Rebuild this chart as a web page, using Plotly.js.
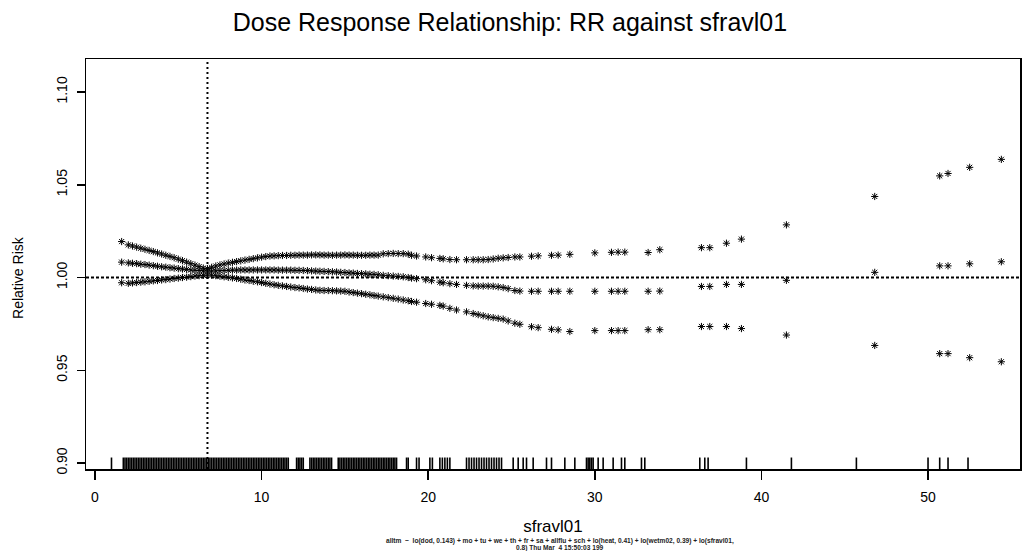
<!DOCTYPE html>
<html><head><meta charset="utf-8">
<script src="https://cdn.plot.ly/plotly-3.0.1.min.js"></script>
<style>html,body{margin:0;padding:0;background:#fff}#chart{width:1024px;height:551px}</style>
</head><body><div id="chart"></div>
<script>
// x values (sfravl01) at which the relative risk curves are plotted
const pointX = [1.6,
 2.0,2.25,2.5,2.75,3.0,3.25,3.5,3.75,4.0,4.25,4.5,4.75,5.0,5.25,5.5,5.75,6.0,6.25,6.5,6.75,
 7.0,7.25,7.5,7.75,8.0,8.25,8.5,8.75,9.0,9.25,9.5,9.75,10.0,10.25,10.5,10.75,11.0,11.25,11.5,11.75,
 12.0,12.25,12.5,12.75,13.0,13.25,13.5,13.75,14.0,14.25,14.5,14.75,15.0,15.25,15.5,15.75,16.0,16.25,16.5,16.75,17.0,
 17.3,17.6,17.9,18.2,18.5,18.8,19.0,19.3,19.85,20.2,20.7,20.9,21.3,21.7,22.3,22.7,23.0,23.3,23.6,23.9,24.2,24.5,24.8,
 25.2,25.5,26.2,26.6,27.4,27.8,28.5,30.0,31.0,31.4,31.8,33.2,33.9,36.4,36.9,37.9,38.8,41.5,46.8,50.7,51.2,52.5,54.4];

// upper confidence bound
const upperRR = [1.0194,
 1.0176,1.0170,1.0164,1.0158,1.0152,1.0146,1.0140,1.0133,1.0127,1.0120,1.0114,1.0107,1.0099,1.0091,1.0083,1.0075,1.0067,1.0059,1.0051,1.0048,
 1.0055,1.0062,1.0068,1.0073,1.0078,1.0082,1.0086,1.0090,1.0094,1.0098,1.0102,1.0106,1.0110,1.0113,1.0116,1.0117,1.0118,1.0119,1.0119,1.0120,
 1.0120,1.0121,1.0121,1.0121,1.0122,1.0122,1.0122,1.0121,1.0121,1.0120,1.0121,1.0121,1.0122,1.0121,1.0121,1.0120,1.0120,1.0120,1.0121,1.0121,1.0121,
 1.0128,1.0129,1.0130,1.0129,1.0129,1.0126,1.0120,1.0116,1.0111,1.0107,1.0103,1.0101,1.0097,1.0096,1.0096,1.0096,1.0096,1.0096,1.0097,1.0100,1.0104,1.0106,1.0108,
 1.0111,1.0111,1.0115,1.0117,1.0120,1.0121,1.0125,1.0133,1.0136,1.0137,1.0137,1.0135,1.0150,1.0161,1.0161,1.0185,1.0207,1.0284,1.0437,1.0548,1.0561,1.0594,1.0637];

// fitted relative risk
const estimateRR = [1.0083,
 1.0079,1.0077,1.0075,1.0072,1.0070,1.0067,1.0064,1.0061,1.0058,1.0056,1.0053,1.0051,1.0048,1.0046,1.0044,1.0041,1.0039,1.0038,1.0036,1.0035,
 1.0035,1.0036,1.0037,1.0038,1.0039,1.0040,1.0040,1.0041,1.0041,1.0041,1.0041,1.0041,1.0041,1.0041,1.0041,1.0041,1.0040,1.0040,1.0040,1.0040,
 1.0039,1.0039,1.0038,1.0037,1.0036,1.0035,1.0034,1.0033,1.0032,1.0031,1.0030,1.0028,1.0027,1.0025,1.0024,1.0022,1.0021,1.0020,1.0018,1.0017,1.0015,
 1.0012,1.0010,1.0008,1.0006,1.0004,1.0000,0.9997,0.9994,0.9988,0.9983,0.9975,0.9972,0.9967,0.9963,0.9958,0.9955,0.9954,0.9954,0.9954,0.9953,0.9950,0.9946,0.9940,
 0.9930,0.9927,0.9926,0.9926,0.9926,0.9926,0.9926,0.9926,0.9926,0.9926,0.9926,0.9926,0.9927,0.9952,0.9952,0.9963,0.9963,0.9985,1.0028,1.0063,1.0063,1.0074,1.0085];

// lower confidence bound
const lowerRR = [0.9972,
 0.9969,0.9971,0.9973,0.9975,0.9977,0.9980,0.9982,0.9984,0.9987,0.9989,0.9992,0.9995,0.9997,1.0000,1.0002,1.0005,1.0008,1.0010,1.0012,1.0014,
 1.0013,1.0010,1.0007,1.0004,1.0001,0.9998,0.9995,0.9991,0.9987,0.9984,0.9980,0.9977,0.9973,0.9969,0.9965,0.9961,0.9958,0.9955,0.9952,0.9949,
 0.9946,0.9944,0.9941,0.9938,0.9936,0.9933,0.9931,0.9930,0.9930,0.9929,0.9928,0.9927,0.9926,0.9922,0.9919,0.9916,0.9913,0.9910,0.9907,0.9903,0.9900,
 0.9896,0.9892,0.9888,0.9884,0.9879,0.9875,0.9871,0.9867,0.9860,0.9856,0.9850,0.9846,0.9834,0.9825,0.9815,0.9806,0.9800,0.9794,0.9788,0.9784,0.9780,0.9776,0.9766,
 0.9754,0.9748,0.9735,0.9730,0.9721,0.9718,0.9709,0.9714,0.9714,0.9714,0.9714,0.9719,0.9719,0.9736,0.9736,0.9736,0.9725,0.9690,0.9634,0.9590,0.9590,0.9568,0.9546];

// observed sfravl01 values (rug)
const rugX = [0.99,
 1.7,1.8,1.9,2.0,2.1,2.2,2.3,2.4,2.5,2.6,2.7,2.8,2.9,3.0,3.1,3.2,3.3,3.4,3.5,3.6,3.7,3.8,3.9,4.0,4.1,4.2,4.3,4.4,4.5,4.6,4.7,4.8,4.9,
 5.0,5.1,5.2,5.3,5.4,5.5,5.6,5.7,5.8,5.9,6.0,6.1,6.2,6.3,6.4,6.5,6.6,6.7,6.8,6.9,7.0,7.1,7.2,7.3,7.4,7.5,7.6,7.7,7.8,7.9,
 8.0,8.1,8.2,8.3,8.4,8.5,8.6,8.7,8.8,8.9,9.0,9.1,9.2,9.3,9.4,9.5,9.6,
 9.7,9.8,9.9,10.0,10.1,10.2,10.3,10.4,10.5,10.6,10.7,10.8,10.9,11.0,11.1,11.2,11.3,11.4,11.5,11.6,12.1,12.2,12.3,12.4,12.5,
 12.9,13.0,13.1,13.2,13.3,13.4,13.5,13.6,13.7,13.8,13.9,14.0,14.1,14.2,14.6,14.7,14.8,14.9,15.0,15.1,15.2,15.3,15.4,15.5,15.6,15.7,15.8,15.9,
 16.0,16.1,16.2,16.3,16.4,16.5,16.6,16.7,16.8,16.9,17.0,17.1,17.2,17.3,17.4,17.5,17.6,17.7,17.8,17.9,18.0,18.1,18.7,18.8,19.3,19.45,20.1,20.25,
 20.7,20.85,21.0,21.15,21.3,22.3,22.45,22.6,22.75,22.9,23.05,23.2,23.35,23.5,23.65,23.8,23.95,24.1,24.25,24.4,
 25.1,25.4,25.7,25.9,26.3,27.1,27.4,28.2,28.8,29.5,29.6,29.7,29.8,29.9,30.2,30.5,31.1,31.6,31.8,32.8,33.0,
 36.3,36.6,36.8,39.1,41.8,45.7,50.0,50.7,51.2,52.4];

const refX = 6.75;      // vertical reference line
const refRR = 1.0;      // horizontal reference line
const xTickVals = [0, 10, 20, 30, 40, 50];
const yTickVals = [0.90, 0.95, 1.00, 1.05, 1.10];
const chartTitle = "Dose Response Relationship: RR against sfravl01";
const xTitle = "sfravl01";
const yTitle = "Relative Risk";
const footnoteLines = [
  "alltm  ~  lo(dod, 0.143) + mo + tu + we + th + fr + sa + allflu + sch + lo(heat, 0.41) + lo(wetm02, 0.39) + lo(sfravl01,",
  "0.8) Thu Mar  4 15:50:03 199"
];

const FONT = "Liberation Sans, Arial, Helvetica, sans-serif";
const star = {symbol: "asterisk-open", size: 6, color: "#000", line: {color: "#000", width: 1}};

const traces = [upperRR, estimateRR, lowerRR].map((ys, i) => ({
  type: "scatter", mode: "markers", x: pointX, y: ys,
  marker: star, hoverinfo: "x+y", showlegend: false,
  name: ["upper", "estimate", "lower"][i]
}));

const shapes = rugX.map(v => ({
  type: "line", xref: "x", yref: "paper", x0: v, x1: v, y0: 0, y1: 0.028,
  line: {color: "#000", width: 1.6}
}));
shapes.push({type: "line", xref: "x", yref: "paper", x0: refX, x1: refX, y0: 0, y1: 1,
  line: {color: "#000", width: 2, dash: "2px,3px"}});
shapes.push({type: "line", xref: "paper", yref: "y", x0: 0, x1: 1, y0: refRR, y1: refRR,
  line: {color: "#000", width: 2, dash: "3px,2px"}});

const annotations = footnoteLines.map((t, i) => ({
  text: t, xref: "paper", yref: "paper", x: 0.507, y: [-0.1768, -0.1939][i],
  xanchor: "center", yanchor: "middle", showarrow: false,
  font: {size: 6.6, family: FONT, color: "#222", weight: "bold"}
}));
annotations.push({
  text: yTitle, xref: "paper", yref: "paper", x: -0.073, y: 0.468, xanchor: "center", yanchor: "middle",
  textangle: -90, showarrow: false, font: {size: 14, family: FONT, color: "#000"}
});

const layout = {
  width: 1024, height: 551,
  margin: {l: 86, r: 4, t: 59, b: 82, pad: 0},
  paper_bgcolor: "#fff", plot_bgcolor: "#fff",
  font: {family: FONT, color: "#000"},
  title: {text: chartTitle, font: {size: 25, family: FONT, color: "#000"},
          xref: "container", x: 0.498, xanchor: "center", yref: "container", y: 0.96, yanchor: "middle"},
  xaxis: {
    range: [-0.54, 55.52], tickvals: xTickVals, ticks: "outside", ticklen: 9, tickwidth: 1.5, tickcolor: "#000",
    ticklabelstandoff: 6,
    showline: true, linecolor: "#000", linewidth: 1.5, mirror: true, showgrid: false, zeroline: false,
    tickfont: {size: 14, family: FONT, color: "#000"},
    title: {text: xTitle, font: {size: 17, family: FONT, color: "#000"}, standoff: 16}
  },
  yaxis: {
    range: [0.8968, 1.1178], tickvals: yTickVals, tickformat: ".2f", tickangle: -90,
    ticks: "outside", ticklen: 8, tickwidth: 1.5, tickcolor: "#000", ticklabelstandoff: 4,
    showline: true, linecolor: "#000", linewidth: 1.5, mirror: true, showgrid: false, zeroline: false,
    tickfont: {size: 14, family: FONT, color: "#000"}
  },
  shapes: shapes,
  annotations: annotations
};

Plotly.newPlot("chart", traces, layout, {staticPlot: true, displayModeBar: false});
</script>
</body></html>
